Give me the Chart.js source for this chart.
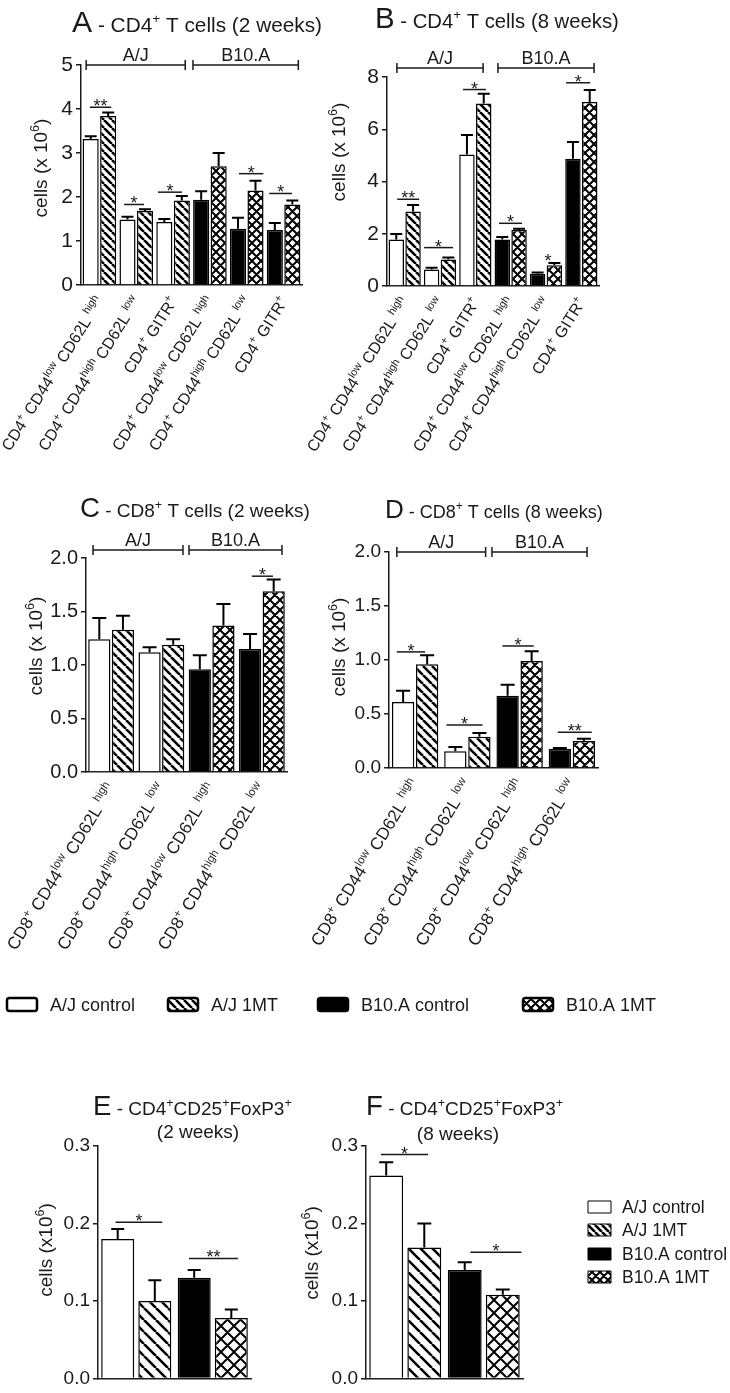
<!DOCTYPE html>
<html>
<head>
<meta charset="utf-8">
<script src="https://cdn.jsdelivr.net/npm/chart.js@4.4.1/dist/chart.umd.min.js"></script>
<style>
  html, body { margin: 0; padding: 0; background: #fff; }
  #wrap { position: relative; width: 730px; height: 1393px; }
  #wrap canvas { position: absolute; left: 0; top: 0; }
</style>
</head>
<body>
<div id="wrap">
  <canvas id="chartA" width="730" height="1393"></canvas>
  <canvas id="chartB" width="730" height="1393"></canvas>
  <canvas id="chartC" width="730" height="1393"></canvas>
  <canvas id="chartD" width="730" height="1393"></canvas>
  <canvas id="chartE" width="730" height="1393"></canvas>
  <canvas id="chartF" width="730" height="1393"></canvas>
</div>
<script>
// --- data -----------------------------------------------------------
// label pieces: [text, style]  style 0 = normal, 1 = superscript, 2 = big letter
const cd4Labels = [
  [['CD4', 0], ['+', 1], [' CD44', 0], ['low', 1], [' CD62L ', 0], ['high', 1]],
  [['CD4', 0], ['+', 1], [' CD44', 0], ['high', 1], [' CD62L ', 0], ['low', 1]],
  [['CD4', 0], ['+', 1], [' GITR', 0], ['+', 1]],
  [['CD4', 0], ['+', 1], [' CD44', 0], ['low', 1], [' CD62L ', 0], ['high', 1]],
  [['CD4', 0], ['+', 1], [' CD44', 0], ['high', 1], [' CD62L ', 0], ['low', 1]],
  [['CD4', 0], ['+', 1], [' GITR', 0], ['+', 1]]
];
const cd8Labels = [
  [['CD8', 0], ['+', 1], [' CD44', 0], ['low', 1], [' CD62L ', 0], ['high', 1]],
  [['CD8', 0], ['+', 1], [' CD44', 0], ['high', 1], [' CD62L ', 0], ['low', 1]],
  [['CD8', 0], ['+', 1], [' CD44', 0], ['low', 1], [' CD62L ', 0], ['high', 1]],
  [['CD8', 0], ['+', 1], [' CD44', 0], ['high', 1], [' CD62L ', 0], ['low', 1]]
];
const tregGroups = ['A/J', 'B10.A'];
const cd4Strain = ['aj', 'aj', 'aj', 'b10', 'b10', 'b10'];
const cd8Strain = ['aj', 'aj', 'b10', 'b10'];
const tregStrain = ['aj', 'b10'];
const seriesNames = ['A/J control', 'A/J 1MT', 'B10.A control', 'B10.A 1MT'];
const seriesStyle = ['white', 'diag', 'black', 'cross'];

// A - CD4 (2 weeks)
const aControl = [3.32, 1.49, 1.43, 1.94, 1.28, 1.25];
const aControlSem = [0.06, 0.06, 0.07, 0.19, 0.25, 0.16];
const a1MT = [3.84, 1.68, 1.92, 2.70, 2.15, 1.83];
const a1MTSem = [0.08, 0.04, 0.10, 0.30, 0.22, 0.09];
const aTicks = [0, 1, 2, 3, 4, 5];
const aSig = [[-0.26, 0.32, 4.04, '**'], [0.67, 1.21, 1.83, '*'], [1.59, 2.24, 2.11, '*'], [3.79, 4.45, 2.53, '*'], [4.61, 5.23, 2.08, '*']];
const aGroups = [[-0.36, 2.33, 'A/J'], [2.54, 5.4, 'B10.A']];

// B - CD4 (8 weeks)
const bControl = [1.78, 0.63, 5.03, 1.78, 0.47, 4.87];
const bControlSem = [0.21, 0.07, 0.75, 0.10, 0.05, 0.64];
const b1MT = [2.85, 1.01, 6.99, 2.14, 0.79, 7.04];
const b1MTSem = [0.25, 0.08, 0.37, 0.05, 0.09, 0.46];
const bTicks = [0, 2, 4, 6, 8];
const bSig = [[-0.21, 0.41, 3.32, '**'], [0.55, 1.37, 1.47, '*'], [1.65, 2.30, 7.52, '*'], [2.67, 3.32, 2.40, '*'], [4.06, 4.06, 0.92, '*'], [4.57, 5.25, 7.78, '*']];
const bGroups = [[-0.22, 2.22, 'A/J'], [2.64, 5.36, 'B10.A']];

// C - CD8 (2 weeks)
const cControl = [1.24, 1.12, 0.96, 1.15];
const cControlSem = [0.20, 0.045, 0.13, 0.14];
const c1MT = [1.33, 1.19, 1.37, 1.69];
const c1MTSem = [0.13, 0.05, 0.20, 0.11];
const cTicks = [0, 0.5, 1.0, 1.5, 2.0];
const cSig = [[2.80, 3.22, 1.83, '*']];
const cGroups = [[-0.36, 1.43, 'A/J'], [1.55, 3.4, 'B10.A']];

// D - CD8 (8 weeks)
const dControl = [0.61, 0.155, 0.67, 0.175];
const dControlSem = [0.105, 0.04, 0.10, 0.01];
const d1MT = [0.96, 0.29, 0.99, 0.25];
const d1MTSem = [0.085, 0.035, 0.09, 0.02];
const dTicks = [0, 0.5, 1.0, 1.5, 2.0];
const dSig = [[-0.35, 0.19, 1.075, '*'], [0.60, 1.29, 0.398, '*'], [1.67, 2.27, 1.13, '*'], [2.73, 3.38, 0.33, '**']];
const dGroups = [[-0.35, 1.35, 'A/J'], [1.47, 3.29, 'B10.A']];

// E - Treg (2 weeks)
const eControl = [0.18, 0.13];
const eControlSem = [0.013, 0.01];
const e1MT = [0.10, 0.078];
const e1MTSem = [0.027, 0.011];
const eTicks = [0, 0.1, 0.2, 0.3];
const eSig = [[-0.27, 0.34, 0.2017, '*'], [0.69, 1.33, 0.155, '**']];

// F - Treg (8 weeks)
const fControl = [0.262, 0.14];
const fControlSem = [0.017, 0.01];
const f1MT = [0.169, 0.108];
const f1MTSem = [0.031, 0.007];
const fTicks = [0, 0.1, 0.2, 0.3];
const fSig = [[-0.31, 0.29, 0.289, '*'], [0.83, 1.48, 0.163, '*']];

// --- helpers --------------------------------------------------------
const FONT = '"Liberation Sans", Arial, Helvetica, sans-serif';
const INK = '#1a1a1a';
const W = 730, H = 1393;

function fontFor(style, size) {
  const k = style === 1 ? 0.66 : style === 2 ? 1.45 : 1;
  return (size * k).toFixed(1) + 'px ' + FONT;
}
function richWidth(ctx, segs, size) {
  let w = 0;
  for (const [t, s] of segs) { ctx.font = fontFor(s, size); w += ctx.measureText(t).width; }
  return w;
}
function drawRich(ctx, segs, x, y, size, align) {
  const w = richWidth(ctx, segs, size);
  let cx = align === 'right' ? x - w : align === 'center' ? x - w / 2 : x;
  ctx.textAlign = 'left';
  ctx.textBaseline = 'alphabetic';
  for (const [t, s] of segs) {
    ctx.font = fontFor(s, size);
    ctx.fillText(t, cx, s === 1 ? y - size * 0.42 : y);
    cx += ctx.measureText(t).width;
  }
}

const scratch = document.createElement('canvas').getContext('2d');
function makeHatch(size, cross, lw) {
  const c = document.createElement('canvas');
  c.width = c.height = size;
  const g = c.getContext('2d');
  g.fillStyle = '#fff';
  g.fillRect(0, 0, size, size);
  g.strokeStyle = '#000';
  g.lineWidth = lw;
  g.beginPath();
  for (const o of [-size, 0, size]) {
    g.moveTo(o, 0); g.lineTo(o + size, size);
    if (cross) { g.moveTo(o, size); g.lineTo(o + size, 0); }
  }
  g.stroke();
  return scratch.createPattern(c, 'repeat');
}
function fills(size) {
  return {
    white: '#fff',
    black: '#000',
    diag: makeHatch(size, false, 2.6),
    cross: makeHatch(size + 1, true, 2)
  };
}

function decorPlugin(p) {
  return {
    id: 'decor',
    afterDatasetsDraw(chart) {
      const ctx = chart.ctx, ys = chart.scales.y;
      ctx.save();
      ctx.strokeStyle = '#000';
      ctx.lineWidth = 2;
      p.sems.forEach((sem, di) => {
        const ds = chart.data.datasets[di];
        chart.getDatasetMeta(di).data.forEach((el, i) => {
          const top = ys.getPixelForValue(ds.data[i] + sem[i]);
          const half = p.cap / 2;
          ctx.beginPath();
          ctx.moveTo(el.x, el.y);
          ctx.lineTo(el.x, top);
          ctx.moveTo(el.x - half, top);
          ctx.lineTo(el.x + half, top);
          ctx.stroke();
        });
      });
      ctx.restore();
    },
    afterDraw(chart) {
      const ctx = chart.ctx, xs = chart.scales.x, ys = chart.scales.y, area = chart.chartArea;
      ctx.save();
      ctx.fillStyle = INK;
      ctx.strokeStyle = INK;
      ctx.lineWidth = 1.5;

      // significance marks
      p.sig.forEach(([x1, x2, v, mark]) => {
        const a = xs.getPixelForValue(x1), b = xs.getPixelForValue(x2), py = ys.getPixelForValue(v);
        if (x1 !== x2) {
          ctx.beginPath(); ctx.moveTo(a, py); ctx.lineTo(b, py); ctx.stroke();
        }
        ctx.font = '18px ' + FONT;
        ctx.textAlign = 'center';
        ctx.textBaseline = 'alphabetic';
        ctx.fillText(mark, (a + b) / 2, py + 5);
      });

      // strain brackets
      (p.groups || []).forEach(([g1, g2, name]) => {
        const a = xs.getPixelForValue(g1), b = xs.getPixelForValue(g2), yy = area.top - p.groupLift;
        ctx.beginPath();
        ctx.moveTo(a, yy); ctx.lineTo(b, yy);
        ctx.moveTo(a, yy - 5); ctx.lineTo(a, yy + 5);
        ctx.moveTo(b, yy - 5); ctx.lineTo(b, yy + 5);
        ctx.stroke();
        drawRich(ctx, [[name, 0]], (a + b) / 2, yy - 4, 18, 'center');
      });

      // rotated category labels
      (p.labels || []).forEach((segs, i) => {
        const cx = xs.getPixelForValue(i);
        ctx.save();
        ctx.translate(cx + p.lab.dx, area.bottom + p.lab.dy);
        ctx.rotate(-p.lab.angle * Math.PI / 180);
        drawRich(ctx, segs, 0, 0, p.lab.size, 'right');
        ctx.restore();
      });

      // y title
      ctx.save();
      ctx.translate(p.yTitle.x, p.yTitle.y);
      ctx.rotate(-Math.PI / 2);
      drawRich(ctx, p.yTitle.segs, 0, 0, p.yTitle.size, 'center');
      ctx.restore();

      // panel title
      drawRich(ctx, p.title.segs, p.title.x, p.title.y, p.title.size, 'left');
      if (p.title.sub) drawRich(ctx, [[p.title.sub, 0]], p.title.subX, p.title.subY, p.title.size, 'center');
      ctx.restore();
    }
  };
}

function drawKeyBox(ctx, x, y, w, h, fill, lw, r) {
  ctx.beginPath();
  if (r) ctx.roundRect(x, y, w, h, r); else ctx.rect(x, y, w, h);
  ctx.fillStyle = fill;
  ctx.fill();
  ctx.lineWidth = lw;
  ctx.strokeStyle = '#000';
  ctx.stroke();
}

// legend row under C/D and key next to F
const keyRowX = [7, 168, 318, 523];
const keyColY = [1207, 1230, 1254, 1277];
const keysPlugin = {
  id: 'keys',
  afterDraw(chart) {
    const ctx = chart.ctx;
    const rowFill = fills(8), colFill = fills(7);
    ctx.save();
    seriesNames.forEach((name, i) => {
      drawKeyBox(ctx, keyRowX[i], 998, 30, 13, rowFill[seriesStyle[i]], 2.5, 2.5);
      ctx.fillStyle = INK;
      drawRich(ctx, [[name, 0]], keyRowX[i] + 43, 1011, 18, 'left');
      drawKeyBox(ctx, 588, keyColY[i] - 6, 23, 12, colFill[seriesStyle[i]], 1, 0);
      ctx.fillStyle = INK;
      drawRich(ctx, [[name, 0]], 622, keyColY[i] + 6, 17.5, 'left');
    });
    ctx.restore();
  }
};

const yTitle610 = [['cells (x 10', 0], ['6', 1], [')', 0]];
const yTitleTreg = [['cells (x10', 0], ['6', 1], [')', 0]];

function makePanel(id, cfg) {
  const f = fills(cfg.hatch);
  const [control, mt] = cfg.values;
  const datasets = [
    { data: control, backgroundColor: cfg.strain.map(s => s === 'aj' ? f.white : f.black) },
    { data: mt, backgroundColor: cfg.strain.map(s => s === 'aj' ? f.diag : f.cross) }
  ].map(d => Object.assign(d, {
    borderColor: '#000', borderWidth: 1.5, borderSkipped: 'bottom',
    categoryPercentage: cfg.catPct, barPercentage: cfg.barPct
  }));
  const area = cfg.area;
  const ticks = cfg.ticks;
  return new Chart(document.getElementById(id), {
    type: 'bar',
    data: { labels: cfg.categories, datasets },
    options: {
      responsive: false,
      animation: false,
      devicePixelRatio: 1,
      events: [],
      layout: { padding: { left: 0, top: area.t, right: W - area.r, bottom: H - area.b } },
      plugins: { legend: { display: false }, tooltip: { enabled: false } },
      scales: {
        x: {
          afterFit: s => { s.height = 0; },
          ticks: { display: false },
          grid: { display: false },
          border: { display: true, color: INK, width: 1.5 }
        },
        y: {
          min: 0,
          max: ticks[ticks.length - 1],
          afterBuildTicks: s => { s.ticks = ticks.map(v => ({ value: v })); },
          afterFit: s => { s.width = area.l; },
          ticks: {
            callback: v => v.toFixed(cfg.dec),
            font: { size: cfg.tickSize, family: FONT },
            color: INK,
            padding: 3
          },
          grid: { drawOnChartArea: false, drawTicks: true, tickLength: 5, color: INK, lineWidth: 1.5 },
          border: { display: true, color: INK, width: 1.5 }
        }
      }
    },
    plugins: [decorPlugin(cfg.decor)].concat(cfg.extra || [])
  });
}

makePanel('chartA', {
  categories: cd4Labels.map(l => l.map(s => s[0]).join('')),
  strain: cd4Strain, values: [aControl, a1MT], ticks: aTicks, dec: 0, tickSize: 21,
  area: { l: 81, t: 65, r: 302, b: 285 }, catPct: 0.95, barPct: 0.92, hatch: 8,
  decor: {
    sems: [aControlSem, a1MTSem], sig: aSig, groups: aGroups, groupLift: 0, cap: 12,
    labels: cd4Labels, lab: { dx: 5, dy: 16, angle: 58, size: 16 },
    yTitle: { segs: yTitle610, x: 47, y: 168, size: 19 },
    title: { segs: [['A', 2], [' - CD4', 0], ['+', 1], [' T cells (2 weeks)', 0]], x: 72, y: 32, size: 20.8 }
  }
});

makePanel('chartB', {
  categories: cd4Labels.map(l => l.map(s => s[0]).join('')),
  strain: cd4Strain, values: [bControl, b1MT], ticks: bTicks, dec: 0, tickSize: 21,
  area: { l: 387, t: 77, r: 599, b: 286 }, catPct: 0.95, barPct: 0.92, hatch: 8,
  decor: {
    sems: [bControlSem, b1MTSem], sig: bSig, groups: bGroups, groupLift: 9, cap: 12,
    labels: cd4Labels, lab: { dx: 5, dy: 16, angle: 58, size: 16 },
    yTitle: { segs: yTitle610, x: 345, y: 152, size: 19 },
    title: { segs: [['B', 2], [' - CD4', 0], ['+', 1], [' T cells (8 weeks)', 0]], x: 375, y: 28, size: 20.3 }
  }
});

makePanel('chartC', {
  categories: cd8Labels.map(l => l.map(s => s[0]).join('')),
  strain: cd8Strain, values: [cControl, c1MT], ticks: cTicks, dec: 1, tickSize: 20,
  area: { l: 86, t: 558, r: 287, b: 772 }, catPct: 0.94, barPct: 0.94, hatch: 9,
  decor: {
    sems: [cControlSem, c1MTSem], sig: cSig, groups: cGroups, groupLift: 8, cap: 14,
    labels: cd8Labels, lab: { dx: 5, dy: 16, angle: 58.5, size: 17.2 },
    yTitle: { segs: yTitle610, x: 42, y: 646, size: 19 },
    title: { segs: [['C', 2], [' - CD8', 0], ['+', 1], [' T cells (2 weeks)', 0]], x: 80, y: 517, size: 19 }
  }
});

makePanel('chartD', {
  categories: cd8Labels.map(l => l.map(s => s[0]).join('')),
  strain: cd8Strain, values: [dControl, d1MT], ticks: dTicks, dec: 1, tickSize: 19,
  area: { l: 389, t: 552, r: 598, b: 768 }, catPct: 0.92, barPct: 0.93, hatch: 9,
  decor: {
    sems: [dControlSem, d1MTSem], sig: dSig, groups: dGroups, groupLift: 0, cap: 14,
    labels: cd8Labels, lab: { dx: 5, dy: 16, angle: 58.5, size: 17.2 },
    yTitle: { segs: yTitle610, x: 345, y: 647, size: 19 },
    title: { segs: [['D', 2], [' - CD8', 0], ['+', 1], [' T cells (8 weeks)', 0]], x: 385, y: 518, size: 18 }
  }
});

makePanel('chartE', {
  categories: tregGroups, strain: tregStrain, values: [eControl, e1MT], ticks: eTicks, dec: 1, tickSize: 19,
  area: { l: 98, t: 1146, r: 251, b: 1379 }, catPct: 0.97, barPct: 0.89, hatch: 12,
  decor: {
    sems: [eControlSem, e1MTSem], sig: eSig, cap: 13,
    yTitle: { segs: yTitleTreg, x: 52, y: 1250, size: 19 },
    title: { segs: [['E', 2], [' - CD4', 0], ['+', 1], ['CD25', 0], ['+', 1], ['FoxP3', 0], ['+', 1]],
             x: 93, y: 1115, size: 19, sub: '(2 weeks)', subX: 198, subY: 1138 }
  }
});

makePanel('chartF', {
  categories: tregGroups, strain: tregStrain, values: [fControl, f1MT], ticks: fTicks, dec: 1, tickSize: 19,
  area: { l: 366, t: 1146, r: 523, b: 1380 }, catPct: 0.97, barPct: 0.89, hatch: 12,
  decor: {
    sems: [fControlSem, f1MTSem], sig: fSig, cap: 14,
    yTitle: { segs: yTitleTreg, x: 318, y: 1253, size: 19 },
    title: { segs: [['F', 2], [' - CD4', 0], ['+', 1], ['CD25', 0], ['+', 1], ['FoxP3', 0], ['+', 1]],
             x: 366, y: 1115, size: 19, sub: '(8 weeks)', subX: 458, subY: 1140 }
  },
  extra: [keysPlugin]
});
</script>
</body>
</html>
